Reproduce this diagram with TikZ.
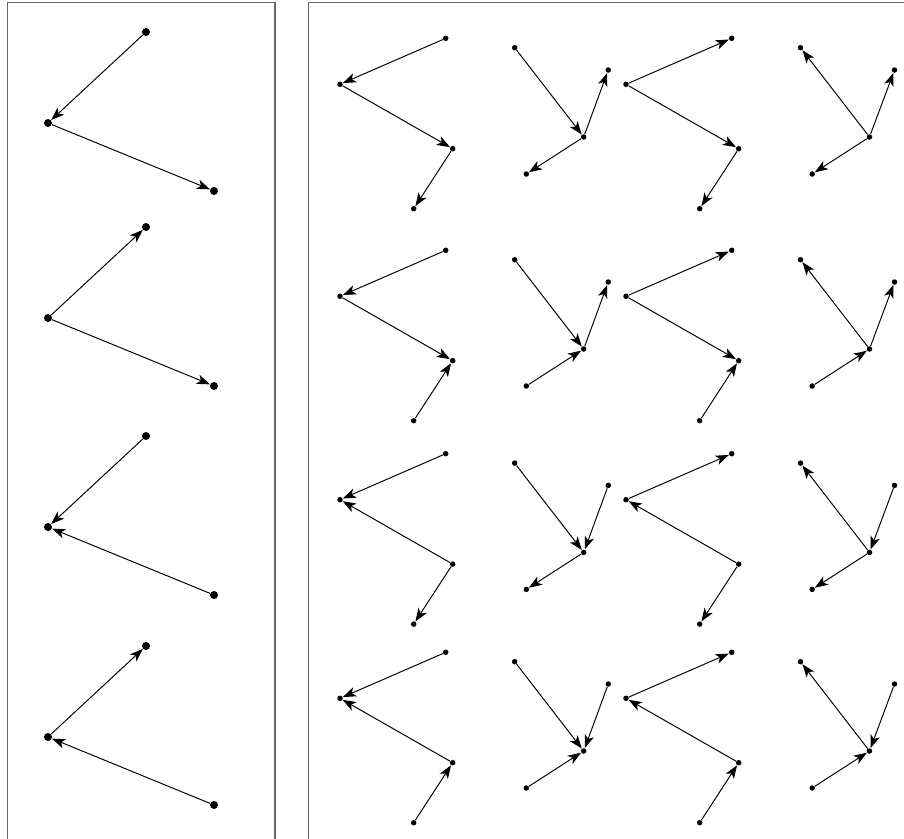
\documentclass[tikz,border=0pt]{standalone}
\usetikzlibrary{arrows.meta}

\begin{document}
\begin{tikzpicture}[
    x=0.02cm, y=-0.02cm,
    frame/.style={draw=black!60, line width=0.6pt},
    bigdot/.style={circle, fill, inner sep=0pt, minimum size=0.16cm},
    dot/.style={circle, fill, inner sep=0pt, minimum size=0.11cm},
    arr/.style={-{Stealth[length=7.5pt, width=5.5pt, inset=2pt]}, line width=0.55pt},
]
\useasboundingbox (0,0) rectangle (904,839);

% ── Panels ──
\draw[frame] (7.5,839) |- (275,2.5) -- (275,839);
\draw[frame] (308.5,839) |- (904,2.5);

% ── Left panel: two edges, all four orientations ──
\foreach \k/\dy/\p/\q/\u/\v in {1/0/a/b/b/c, 2/195/b/a/b/c, 3/404/a/b/c/b, 4/614/b/a/c/b} {
  \node[bigdot] (L\k-a) at (146,32+\dy) {};
  \node[bigdot] (L\k-b) at (48,123+\dy) {};
  \node[bigdot] (L\k-c) at (214,191+\dy) {};
  \draw[arr] (L\k-\p) -- (L\k-\q);
  \draw[arr] (L\k-\u) -- (L\k-\v);
}

% ── Right panel: one row per orientation of the two lower edges ──
\foreach \r/\dy/\p/\q/\u/\v/\s/\t in {1/0/b/c/c/d/b/d, 2/212/b/c/d/c/d/b,
                                     3/415.4/c/b/c/d/b/d, 4/614/c/b/d/c/d/b} {
  % zigzag, first edge down
  \node[dot] (Z\r-a) at (445.7,38.3+\dy) {};
  \node[dot] (Z\r-b) at (340,84.3+\dy) {};
  \node[dot] (Z\r-c) at (452.7,148.7+\dy) {};
  \node[dot] (Z\r-d) at (413.7,208.7+\dy) {};
  \draw[arr] (Z\r-a) -- (Z\r-b);
  \draw[arr] (Z\r-\p) -- (Z\r-\q);
  \draw[arr] (Z\r-\u) -- (Z\r-\v);
  % star, first edge in
  \node[dot] (S\r-a) at (514.7,47.7+\dy) {};
  \node[dot] (S\r-b) at (583.7,137+\dy) {};
  \node[dot] (S\r-c) at (608.3,70+\dy) {};
  \node[dot] (S\r-d) at (526.3,174+\dy) {};
  \draw[arr] (S\r-a) -- (S\r-b);
  \draw[arr] (S\r-\p) -- (S\r-\q);
  \draw[arr] (S\r-\s) -- (S\r-\t);
  % zigzag, first edge up
  \node[dot] (ZR\r-a) at (731.7,38.3+\dy) {};
  \node[dot] (ZR\r-b) at (626,84.3+\dy) {};
  \node[dot] (ZR\r-c) at (738.7,148.7+\dy) {};
  \node[dot] (ZR\r-d) at (699.7,208.7+\dy) {};
  \draw[arr] (ZR\r-b) -- (ZR\r-a);
  \draw[arr] (ZR\r-\p) -- (ZR\r-\q);
  \draw[arr] (ZR\r-\u) -- (ZR\r-\v);
  % star, first edge out
  \node[dot] (SR\r-a) at (800.5,47.7+\dy) {};
  \node[dot] (SR\r-b) at (869.5,137+\dy) {};
  \node[dot] (SR\r-c) at (894.5,70+\dy) {};
  \node[dot] (SR\r-d) at (812.2,174+\dy) {};
  \draw[arr] (SR\r-b) -- (SR\r-a);
  \draw[arr] (SR\r-\p) -- (SR\r-\q);
  \draw[arr] (SR\r-\s) -- (SR\r-\t);
}

\end{tikzpicture}
\end{document}
